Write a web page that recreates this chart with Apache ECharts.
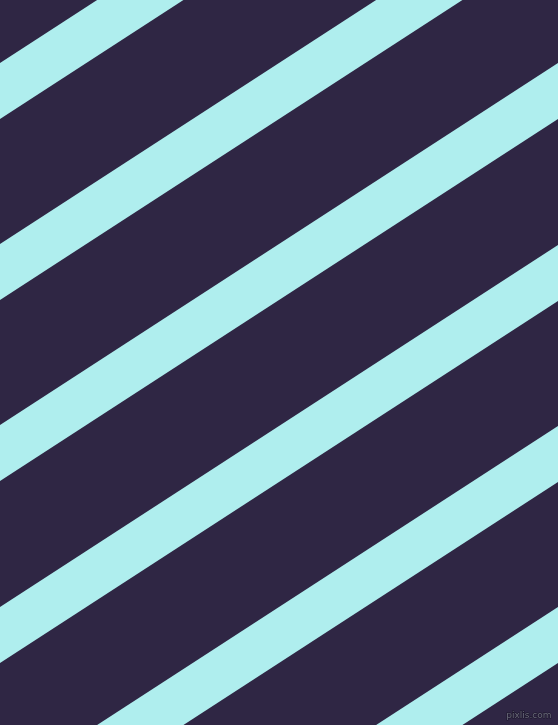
<!DOCTYPE html>
<html>
<head>
<meta charset="utf-8">
<script src="https://cdn.jsdelivr.net/npm/echarts@6/dist/echarts.min.js"></script>
<style>
html,body{margin:0;padding:0;background:#2f2644;}
#chart{width:558px;height:725px;}
</style>
</head>
<body>
<div id="chart"></div>
<script>
// Stripe top-edge heights where each stripe meets the left (x=0) and right (x=558) sides
var stripeLeftY  = [63, 244, 425, 607, 788, 969];
var stripeRightY = [-299, -118, 63, 245, 426, 607];
var stripeThickness = [56, 56, 56, 56, 56, 56];
var xExtent = [0, 558];
var yExtent = [0, 725];

var data = stripeLeftY.map(function (v, i) {
  return [v, stripeRightY[i], stripeThickness[i]];
});

var chart = echarts.init(document.getElementById('chart'));
chart.setOption({
  backgroundColor: '#2f2644',
  animation: false,
  grid: {left: 0, right: 0, top: 0, bottom: 0},
  xAxis: {type: 'value', min: xExtent[0], max: xExtent[1], show: false},
  yAxis: {type: 'value', min: yExtent[0], max: yExtent[1], inverse: true, show: false},
  series: [{
    type: 'custom',
    clip: true,
    data: data,
    renderItem: function (params, api) {
      var ly = api.value(0), ry = api.value(1), t = api.value(2);
      var p1 = api.coord([xExtent[0], ly]);
      var p2 = api.coord([xExtent[1], ry]);
      var p3 = api.coord([xExtent[1], ry + t]);
      var p4 = api.coord([xExtent[0], ly + t]);
      return {
        type: 'polygon',
        shape: {points: [p1, p2, p3, p4]},
        style: {fill: '#afeeee'}
      };
    }
  }],
  graphic: [{
    type: 'text',
    right: 6,
    bottom: 4,
    style: {
      text: 'pixlis.com',
      font: '9px "DejaVu Sans"',
      fill: '#6a6a7a',
      stroke: '#1a1528',
      lineWidth: 1
    }
  }]
});
</script>
</body>
</html>
